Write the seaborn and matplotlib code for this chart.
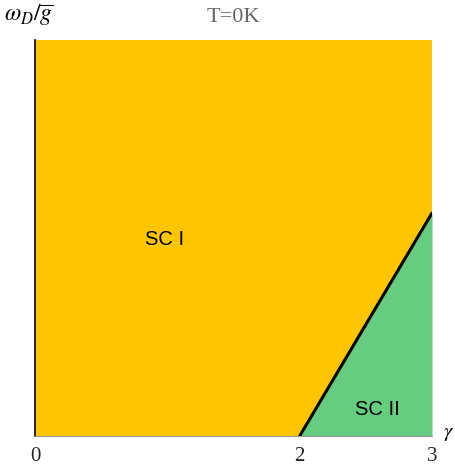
import matplotlib
matplotlib.use("Agg")
import matplotlib.pyplot as plt
import seaborn as sns
import pandas as pd
import numpy as np

# Phase boundary between the two superconducting phases at T=0
gamma_boundary = [2.0, 3.0]
omega_boundary = [0.0, 0.563]

x_ticks = [0, 2, 3]
x_tick_labels = ["0", "2", "3"]

region_labels = ["SC I", "SC II"]
region_x = [0.98, 2.59]
region_y = [0.495, 0.066]

orange = "#FFC600"
green = "#66CC80"

sns.set_theme(style="white")
plt.rcParams["mathtext.fontset"] = "stix"

fig = plt.figure(figsize=(4.55, 4.70), dpi=100)
ax = fig.add_axes([35 / 455, 34 / 470, 397 / 455, 396 / 470])

ax.set_xlim(0, 3)
ax.set_ylim(0, 1)

# Whole panel is phase I; the triangle under the boundary is phase II
ax.fill_between([0, 3], 0, 1, color=orange, lw=0, zorder=0)
ax.fill_between(gamma_boundary, 0, omega_boundary, color=green, lw=0, zorder=1)

df = pd.DataFrame({"gamma": gamma_boundary, "omega": omega_boundary})
sns.lineplot(data=df, x="gamma", y="omega", color="black", lw=2.2, ax=ax, zorder=3)

for txt, xx, yy in zip(region_labels, region_x, region_y):
    ax.text(xx, yy, txt, ha="center", va="center", fontsize=14.5,
            family="Liberation Sans", color="black")

ax.set_xticks(x_ticks)
ax.set_xticklabels(x_tick_labels, family="Liberation Serif", fontsize=15)
ax.set_yticks([])
ax.tick_params(axis="x", length=0, pad=8)
ax.set_xlabel("")
ax.set_ylabel("")

for side in ["top", "right"]:
    ax.spines[side].set_visible(False)
ax.spines["left"].set_color("black")
ax.spines["left"].set_linewidth(1.2)
ax.spines["bottom"].set_color("#999999")
ax.spines["bottom"].set_linewidth(0.8)

fig.text(4 / 455, 1 - 15 / 470, r"$\omega_D/\overline{g}$", fontsize=17,
         ha="left", va="center", color="black")
fig.text(449 / 455, 1 - 433 / 470, r"$\gamma$", fontsize=15,
         ha="center", va="center", color="black")
fig.text(233 / 455, 1 - 18 / 470, "T=0K", fontsize=16, family="Liberation Serif",
         ha="center", va="center", color="#666666")

fig.savefig("out.png", dpi=100)
